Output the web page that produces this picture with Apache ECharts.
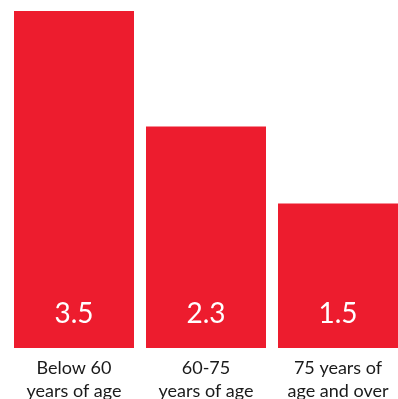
<!DOCTYPE html>
<html><head><meta charset="utf-8">
<style>html,body{margin:0;padding:0;background:#fff}#c{width:398px;height:399px}</style>
<script src="https://cdn.jsdelivr.net/npm/echarts@6/dist/echarts.min.js"></script>
</head><body><div id="c"></div>
<script>
const categories = ["Below 60\nyears of age", "60-75\nyears of age", "75 years of\nage and over"];
const values = [3.5, 2.3, 1.5];

const chart = echarts.init(document.getElementById('c'), null, {renderer: 'canvas'});
chart.setOption({
  animation: false,
  grid: {left: 8, width: 396, top: 11, bottom: 51, containLabel: false, outerBoundsMode: 'none'},
  xAxis: {
    type: 'category', data: categories,
    axisLine: {show: false}, axisTick: {show: false},
    axisLabel: {color: '#1a1a1a', fontFamily: 'Lato', fontSize: 18, lineHeight: 23, margin: 9, interval: 0}
  },
  yAxis: {type: 'value', min: 0, max: 3.5, show: false, splitLine: {show: false}},
  series: [{
    type: 'bar', data: values, barWidth: 120,
    itemStyle: {color: '#ED1C2E'},
    label: {show: true, position: 'insideBottom', distance: 20, color: '#fff', fontFamily: 'Lato', fontSize: 28,
      formatter: p => p.value.toFixed(1)}
  }]
});
</script></body></html>
